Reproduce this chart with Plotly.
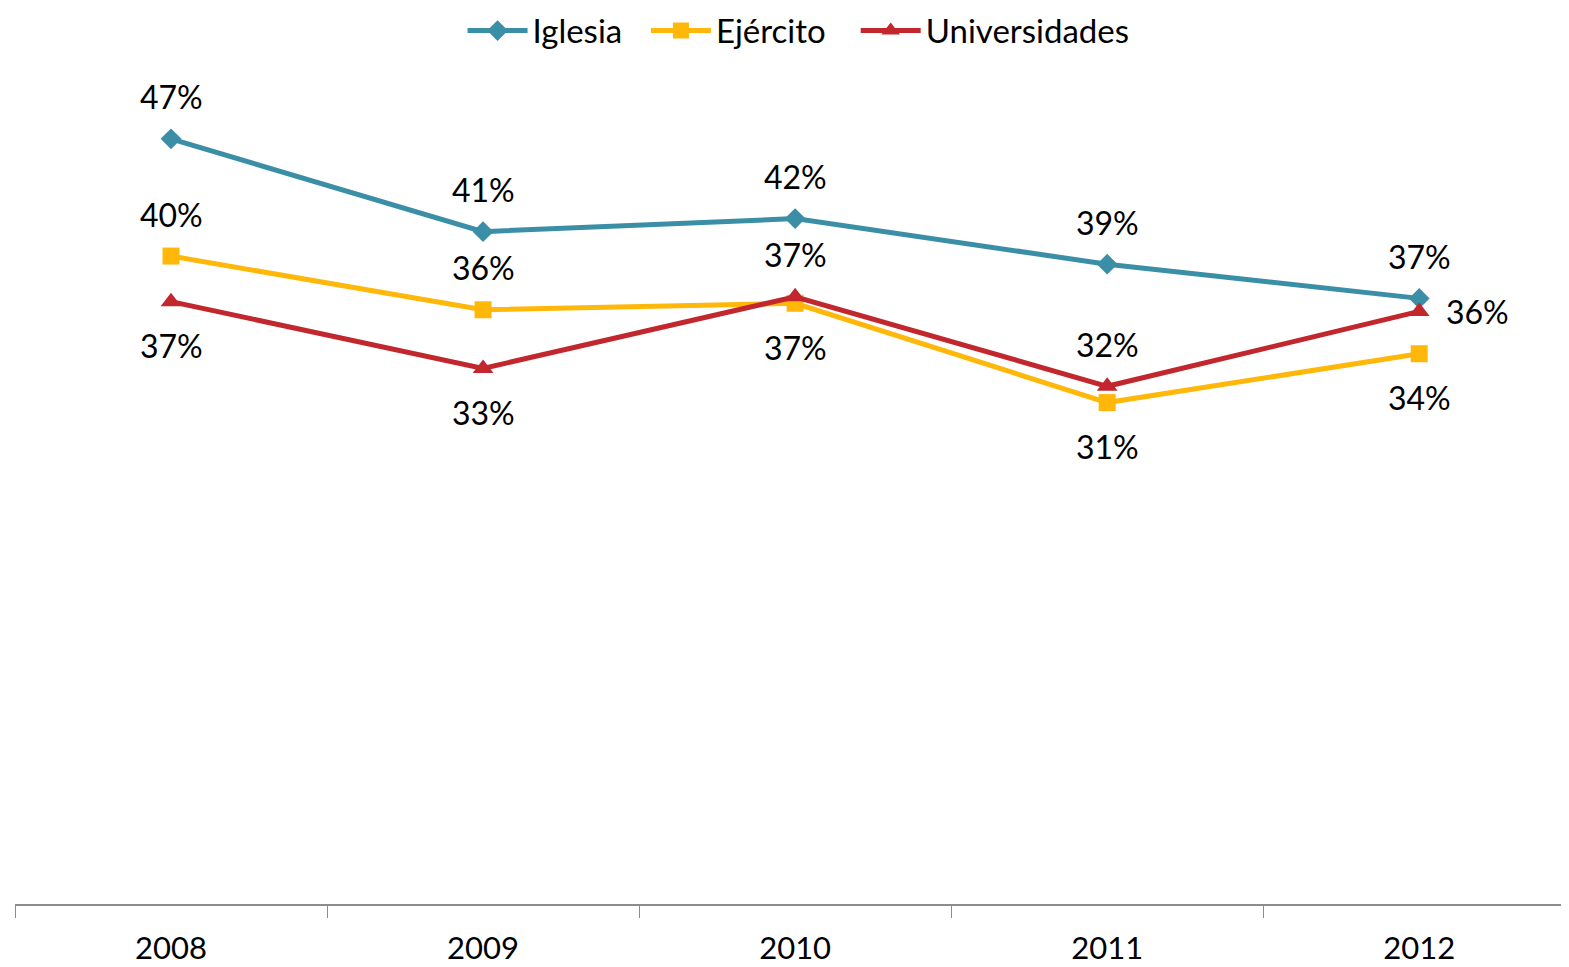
import plotly.graph_objects as go

years = ["2008", "2009", "2010", "2011", "2012"]
iglesia = [47.0, 41.3, 42.1, 39.3, 37.2]
ejercito = [39.8, 36.5, 36.9, 30.8, 33.8]
universidades = [37.0, 32.9, 37.3, 31.8, 36.4]

series = [
    ("Iglesia", iglesia, "#3A8FA7", "diamond", 16, ["top"] * 5, "legend", 0.288),
    ("Ejército", ejercito, "#FFB80A", "square", 17, ["top", "top", "bottom", "bottom", "bottom"], "legend2", 0.406),
    ("Universidades", universidades, "#C1272D", "triangle-up", 18, ["bottom", "bottom", "top", "top", "right"], "legend3", 0.541),
]

FONT = "Lato, 'Open Sans', sans-serif"
fig = go.Figure()
annotations = []
legends = {}
for name, vals, color, sym, msize, pos, leg, lx in series:
    fig.add_trace(go.Scatter(
        x=years, y=vals, name=name, mode="lines+markers",
        line=dict(color=color, width=5),
        marker=dict(symbol=sym, size=msize, color=color),
        cliponaxis=False, legend=leg,
    ))
    legends[leg] = dict(orientation="h", x=lx, xanchor="left", y=1.073, yanchor="middle",
                        font=dict(family=FONT, size=33, color="black"), itemwidth=60,
                        bgcolor="rgba(0,0,0,0)")
    for i, (v, p) in enumerate(zip(vals, pos)):
        a = dict(x=i, y=v, xref="x", yref="y", text=f"{round(v)}%", showarrow=False,
                 font=dict(family=FONT, size=32, color="black"))
        if p == "top":
            a.update(yshift=42)
        elif p == "bottom":
            a.update(yshift=-44)
        else:
            a.update(xshift=58)
        annotations.append(a)

fig.update_layout(
    width=1561, height=959,
    margin=dict(l=7, r=0, t=82, b=63, autoexpand=False),
    paper_bgcolor="white", plot_bgcolor="white",
    font=dict(family=FONT, size=32, color="black"),
    showlegend=True,
    annotations=annotations,
    xaxis=dict(type="category", range=[-0.5, 4.48], showgrid=False, zeroline=False,
               showline=True, linecolor="#8C8C8C", linewidth=2,
               ticks="outside", tickson="boundaries", ticklen=12, tickcolor="#8C8C8C",
               tickwidth=1, tickfont=dict(family=FONT, size=31, color="black"),
               ticklabelstandoff=16),
    yaxis=dict(range=[0, 50], visible=False, showgrid=False, zeroline=False),
    **legends,
)

fig.write_html("out.html")
